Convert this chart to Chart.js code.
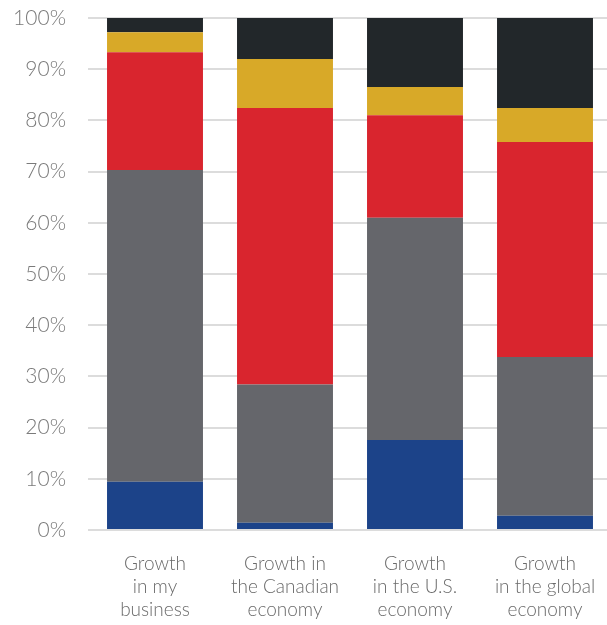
<!DOCTYPE html>
<html>
<head>
<meta charset="utf-8">
<script src="https://cdn.jsdelivr.net/npm/chart.js@4"></script>
<style>
  html, body { margin: 0; padding: 0; background: #fff; overflow: hidden; }
  .wrap { position: relative; width: 610px; height: 625px; }
</style>
</head>
<body>
<div class="wrap"><canvas id="growthChart"></canvas></div>
<script>
const CATEGORIES = [
    ['Growth', 'in my', 'business'],
    ['Growth in', 'the Canadian', 'economy'],
    ['Growth', 'in the U.S.', 'economy'],
    ['Growth', 'in the global', 'economy']
];

// share of responses per category, bottom to top
const BLUE  = [9.4, 1.4, 17.6, 2.8];
const GRAY  = [60.9, 27.0, 43.4, 31.0];
const RED   = [23.0, 54.0, 20.0, 42.0];
const GOLD  = [3.9, 9.6, 5.5, 6.6];
const BLACK = [2.8, 8.0, 13.6, 17.6];

const Y_TICKS = [0, 10, 20, 30, 40, 50, 60, 70, 80, 90, 100];

const FONT = "'Lato', 'Open Sans', sans-serif";

const seg = (data, color) => ({
    data,
    backgroundColor: color,
    borderWidth: 0,
    categoryPercentage: 0.738,
    barPercentage: 1.0
});

new Chart(document.getElementById('growthChart'), {
    type: 'bar',
    data: {
        labels: CATEGORIES,
        datasets: [
            seg(BLUE, '#1c4389'),
            seg(GRAY, '#65666b'),
            seg(RED, '#d9252e'),
            seg(GOLD, '#d8a928'),
            seg(BLACK, '#22272a')
        ]
    },
    options: {
        responsive: true,
        maintainAspectRatio: false,
        animation: false,
        layout: { padding: { top: 18, right: 0, left: 0, bottom: 0 } },
        plugins: { legend: { display: false }, tooltip: { enabled: false } },
        scales: {
            x: {
                stacked: true,
                grid: { display: false, drawTicks: false },
                border: { display: false },
                ticks: {
                    color: '#6a6a6a',
                    padding: 22,
                    maxRotation: 0,
                    font: { family: FONT, size: 19, weight: 300, lineHeight: 1.22 }
                },
                afterFit: s => {
                    s.height = 95;
                    s.paddingLeft = 0;
                    s.paddingRight = 0;
                }
            },
            y: {
                stacked: true,
                min: 0,
                max: 100,
                afterBuildTicks: s => { s.ticks = Y_TICKS.map(v => ({ value: v })); },
                grid: { color: '#dcdcdc', lineWidth: 2, drawTicks: true, tickLength: 2 },
                border: { display: false },
                ticks: {
                    color: '#7a7a7a',
                    padding: 22,
                    font: { family: FONT, size: 21, weight: 300 },
                    callback: v => v + '%'
                },
                afterFit: s => {
                    s.width = 90;
                    s.paddingTop = 0;
                    s.paddingBottom = 0;
                }
            }
        }
    }
});
</script>
</body>
</html>
